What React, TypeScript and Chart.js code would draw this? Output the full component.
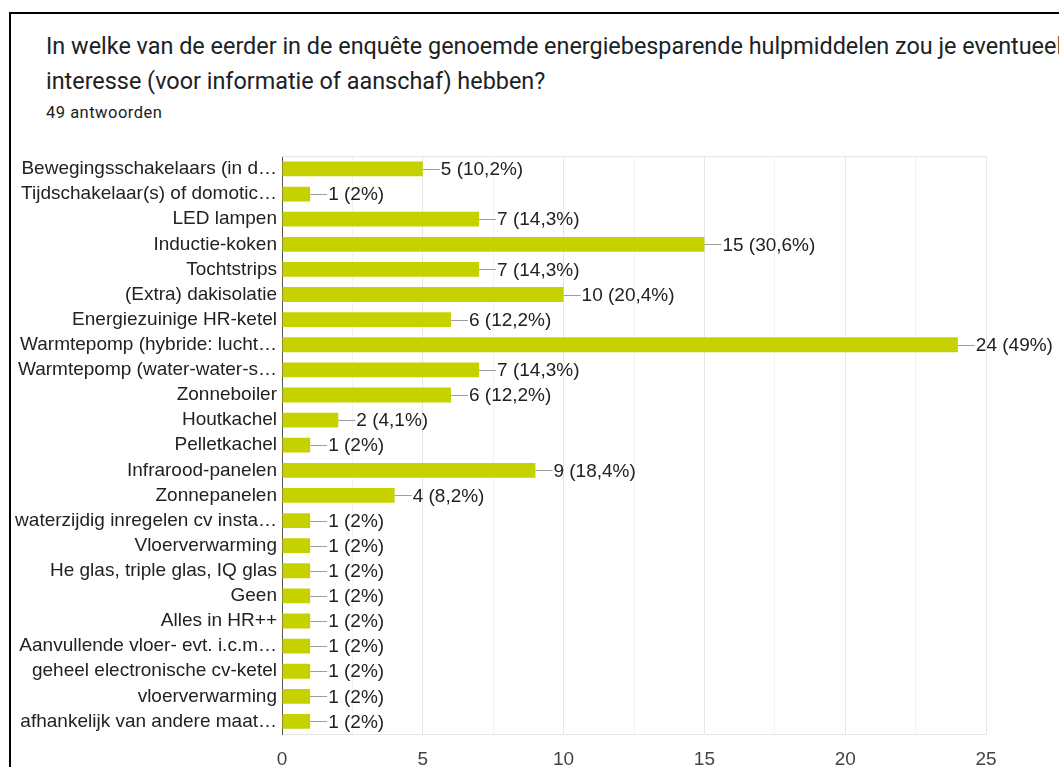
import React, { useEffect, useRef } from "react";
import { Chart, registerables } from "chart.js";

Chart.register(...registerables);

const TITLE_LINE_1 = "In welke van de eerder in de enquête genoemde energiebesparende hulpmiddelen zou je eventueel";
const TITLE_LINE_2 = "interesse (voor informatie of aanschaf) hebben?";
const SUBTITLE = "49 antwoorden";
const TOTAL = 49;

const categories = [
  "Bewegingsschakelaars (in d…",
  "Tijdschakelaar(s) of domotic…",
  "LED lampen",
  "Inductie-koken",
  "Tochtstrips",
  "(Extra) dakisolatie",
  "Energiezuinige HR-ketel",
  "Warmtepomp (hybride: lucht…",
  "Warmtepomp (water-water-s…",
  "Zonneboiler",
  "Houtkachel",
  "Pelletkachel",
  "Infrarood-panelen",
  "Zonnepanelen",
  "waterzijdig inregelen cv insta…",
  "Vloerverwarming",
  "He glas, triple glas, IQ glas",
  "Geen",
  "Alles in HR++",
  "Aanvullende vloer- evt. i.c.m…",
  "geheel electronische cv-ketel",
  "vloerverwarming",
  "afhankelijk van andere maat…",
];

const counts = [5, 1, 7, 15, 7, 10, 6, 24, 7, 6, 2, 1, 9, 4, 1, 1, 1, 1, 1, 1, 1, 1, 1];

const xTickValues = [0, 5, 10, 15, 20, 25];

const BAR_COLOR = "#c5d200";
const FONT = "'Liberation Sans', Arial, sans-serif";

function pctLabel(v: number): string {
  const p = Math.round((v / TOTAL) * 1000) / 10;
  const s = Number.isInteger(p) ? String(p) : p.toFixed(1).replace(".", ",");
  return `${v} (${s}%)`;
}

const labelPlugin = {
  id: "barValueLabels",
  beforeDatasetsDraw(chart: any) {
    const { ctx, chartArea } = chart;
    ctx.save();
    ctx.strokeStyle = "#e6e6e6";
    ctx.lineWidth = 1;
    ctx.beginPath();
    ctx.moveTo(chartArea.left, Math.round(chartArea.top) + 0.5);
    ctx.lineTo(chartArea.right, Math.round(chartArea.top) + 0.5);
    ctx.stroke();
    ctx.restore();
  },
  afterDatasetsDraw(chart: any) {
    const { ctx } = chart;
    const meta = chart.getDatasetMeta(0);
    const data = chart.data.datasets[0].data as number[];
    ctx.save();
    ctx.font = `19px ${FONT}`;
    ctx.textBaseline = "middle";
    ctx.textAlign = "left";
    meta.data.forEach((bar: any, i: number) => {
      const x = bar.x;
      const y = Math.round(bar.y) + 0.5;
      ctx.strokeStyle = "#9e9e9e";
      ctx.lineWidth = 1;
      ctx.beginPath();
      ctx.moveTo(x, y);
      ctx.lineTo(x + 17, y);
      ctx.stroke();
      ctx.fillStyle = "#222222";
      ctx.fillText(pctLabel(data[i]), x + 18, bar.y + 1);
    });
    ctx.restore();
  },
};

export default function App() {
  const canvasRef = useRef<HTMLCanvasElement | null>(null);

  useEffect(() => {
    if (!canvasRef.current) return;
    const chart = new Chart(canvasRef.current, {
      type: "bar",
      data: {
        labels: categories,
        datasets: [
          {
            data: counts,
            backgroundColor: BAR_COLOR,
            borderWidth: 0,
            barPercentage: 0.59,
            categoryPercentage: 1,
          },
        ],
      },
      options: {
        indexAxis: "y",
        animation: false,
        responsive: false,
        maintainAspectRatio: false,
        layout: { padding: { top: 15, right: 73, left: 0, bottom: 0 } },
        plugins: {
          legend: { display: false },
          tooltip: { enabled: false },
        },
        scales: {
          x: {
            min: 0,
            max: 25,
            afterFit: (scale: any) => {
              scale.height = 33;
            },
            afterBuildTicks: (scale: any) => {
              const t: any[] = [];
              for (let i = 0; i < xTickValues.length; i++) {
                t.push({ value: xTickValues[i] });
                if (i < xTickValues.length - 1) {
                  t.push({ value: (xTickValues[i] + xTickValues[i + 1]) / 2 });
                }
              }
              scale.ticks = t;
            },
            ticks: {
              autoSkip: false,
              maxRotation: 0,
              padding: 14,
              color: "#444444",
              font: { family: FONT, size: 19 },
              callback: (v: any) => (xTickValues.includes(Number(v)) ? String(v) : ""),
            },
            grid: {
              drawTicks: false,
              lineWidth: 1,
              color: (c: any) =>
                c.tick && xTickValues.includes(c.tick.value) ? "#e6e6e6" : "#f3f3f3",
            },
            border: { display: true, color: "#e6e6e6" },
          },
          y: {
            afterFit: (scale: any) => {
              scale.width = 270;
            },
            ticks: {
              autoSkip: false,
              padding: 5,
              color: "#222222",
              font: { family: FONT, size: 19 },
            },
            grid: { display: false, drawTicks: false },
            border: { display: true, color: "#555555", width: 1 },
          },
        },
      },
      plugins: [labelPlugin],
    });
    return () => chart.destroy();
  }, []);

  return (
    <div
      style={{
        position: "absolute",
        left: 0,
        top: 0,
        width: 1059,
        height: 767,
        overflow: "hidden",
        background: "#ffffff",
      }}
    >
      <div
        style={{
          position: "absolute",
          left: 9,
          top: 12,
          width: 1200,
          height: 900,
          borderTop: "2px solid #000",
          borderLeft: "2px solid #000",
        }}
      />
      <div
        style={{
          position: "absolute",
          left: 46,
          top: 29,
          fontFamily: "Roboto, sans-serif",
          fontSize: 23.4,
          lineHeight: "35px",
          color: "#202124",
          whiteSpace: "nowrap",
        }}
      >
        <div>{TITLE_LINE_1}</div>
        <div>{TITLE_LINE_2}</div>
      </div>
      <div
        style={{
          position: "absolute",
          left: 46,
          top: 103,
          fontFamily: "Roboto, sans-serif",
          fontSize: 16.5,
          letterSpacing: "0.5px",
          lineHeight: "20px",
          color: "#202124",
          whiteSpace: "nowrap",
        }}
      >
        {SUBTITLE}
      </div>
      <canvas
        ref={canvasRef}
        width={1047}
        height={627}
        style={{ position: "absolute", left: 12, top: 140, width: 1047, height: 627 }}
      />
    </div>
  );
}
